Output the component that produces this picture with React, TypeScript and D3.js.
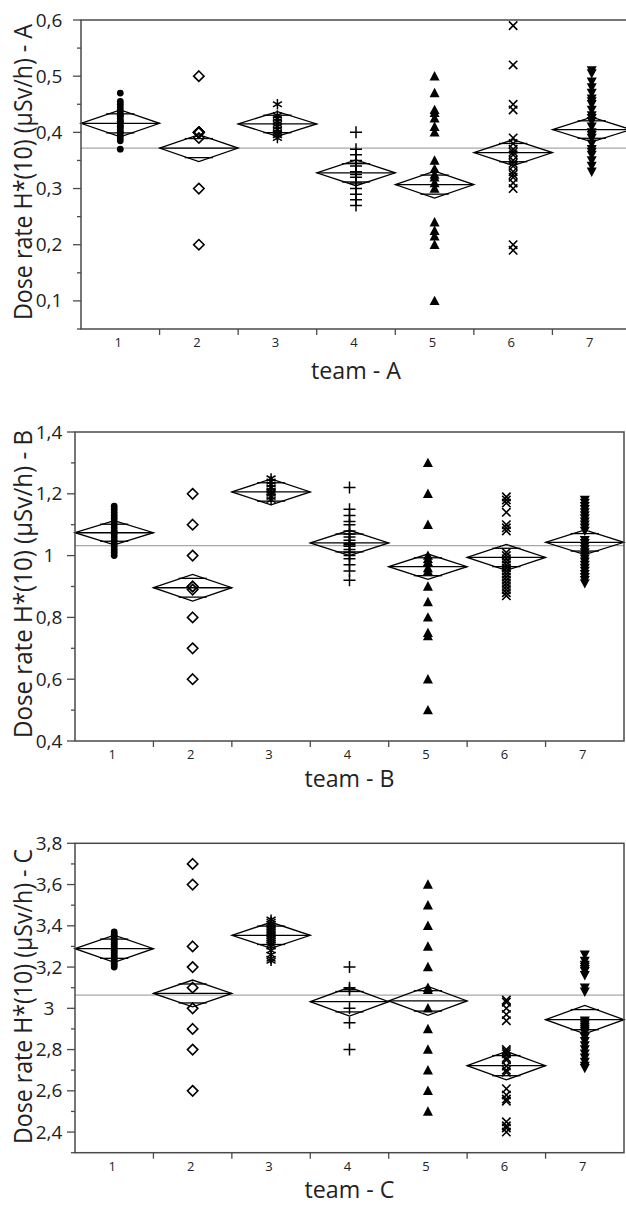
import React from "react";
import * as d3 from "d3";

const categories = ["1", "2", "3", "4", "5", "6", "7"];
const markerShapes = ["circle", "diamond", "asterisk", "plus", "triangleUp", "cross", "triangleDown"];

// Team A
const teamA: number[][] = [
  [0.37, 0.385, 0.39, 0.395, 0.40, 0.40, 0.405, 0.41, 0.41, 0.415, 0.42, 0.42, 0.425, 0.43, 0.43, 0.435, 0.44, 0.445, 0.45, 0.455, 0.47],
  [0.5, 0.4, 0.4, 0.4, 0.4, 0.4, 0.4, 0.4, 0.39, 0.3, 0.2],
  [0.39, 0.395, 0.40, 0.405, 0.41, 0.415, 0.42, 0.425, 0.43, 0.45],
  [0.40, 0.37, 0.36, 0.35, 0.345, 0.34, 0.33, 0.325, 0.32, 0.31, 0.30, 0.29, 0.28, 0.27],
  [0.50, 0.47, 0.44, 0.435, 0.425, 0.41, 0.40, 0.35, 0.335, 0.325, 0.32, 0.31, 0.30, 0.24, 0.225, 0.215, 0.20, 0.10],
  [0.59, 0.52, 0.45, 0.44, 0.39, 0.38, 0.37, 0.365, 0.36, 0.35, 0.345, 0.34, 0.33, 0.325, 0.32, 0.31, 0.30, 0.20, 0.19],
  [0.51, 0.505, 0.49, 0.48, 0.47, 0.46, 0.455, 0.45, 0.44, 0.43, 0.425, 0.42, 0.41, 0.40, 0.395, 0.39, 0.38, 0.37, 0.365, 0.36, 0.35, 0.34, 0.33],
];
const meansA = [0.416, 0.372, 0.415, 0.328, 0.307, 0.364, 0.405];
const ciA = [0.024, 0.024, 0.022, 0.023, 0.024, 0.023, 0.022];
const grandMeanA = 0.372;
const majorTicksA = [0.1, 0.2, 0.3, 0.4, 0.5, 0.6];
const minorTicksA = [0.05, 0.15, 0.25, 0.35, 0.45, 0.55];

// Team B
const teamB: number[][] = [
  [1.16, 1.15, 1.14, 1.13, 1.12, 1.11, 1.10, 1.09, 1.08, 1.075, 1.07, 1.06, 1.05, 1.04, 1.03, 1.02, 1.01, 1.00],
  [1.2, 1.1, 1.0, 0.9, 0.9, 0.89, 0.8, 0.7, 0.6],
  [1.25, 1.24, 1.23, 1.22, 1.21, 1.205, 1.20, 1.19, 1.18],
  [1.22, 1.15, 1.13, 1.11, 1.10, 1.08, 1.07, 1.06, 1.05, 1.04, 1.035, 1.03, 1.02, 1.01, 1.00, 0.99, 0.97, 0.95, 0.92],
  [1.30, 1.20, 1.10, 1.00, 0.99, 0.98, 0.96, 0.95, 0.90, 0.85, 0.80, 0.75, 0.74, 0.60, 0.50],
  [1.19, 1.18, 1.17, 1.14, 1.10, 1.09, 1.08, 1.01, 1.00, 0.99, 0.98, 0.97, 0.96, 0.95, 0.94, 0.93, 0.92, 0.91, 0.90, 0.89, 0.88, 0.87],
  [1.18, 1.17, 1.16, 1.15, 1.14, 1.13, 1.12, 1.11, 1.10, 1.09, 1.08, 1.05, 1.04, 1.03, 1.02, 1.01, 1.00, 0.99, 0.98, 0.97, 0.96, 0.95, 0.94, 0.93, 0.92, 0.91],
];
const meansB = [1.074, 0.896, 1.206, 1.041, 0.964, 0.994, 1.043];
const ciB = [0.039, 0.043, 0.042, 0.041, 0.041, 0.042, 0.040];
const grandMeanB = 1.032;
const majorTicksB = [0.4, 0.6, 0.8, 1.0, 1.2, 1.4];
const minorTicksB = [0.5, 0.7, 0.9, 1.1, 1.3];

// Team C
const teamC: number[][] = [
  [3.37, 3.36, 3.35, 3.34, 3.33, 3.32, 3.31, 3.30, 3.29, 3.28, 3.27, 3.26, 3.25, 3.24, 3.23, 3.22, 3.21, 3.20],
  [3.7, 3.6, 3.3, 3.2, 3.1, 3.0, 2.9, 2.8, 2.6],
  [3.43, 3.42, 3.41, 3.40, 3.39, 3.38, 3.37, 3.36, 3.35, 3.34, 3.33, 3.32, 3.31, 3.30, 3.28, 3.26, 3.24, 3.23],
  [3.2, 3.1, 3.09, 3.0, 2.93, 2.8],
  [3.6, 3.5, 3.4, 3.3, 3.2, 3.1, 3.09, 3.0, 2.9, 2.8, 2.7, 2.6, 2.5],
  [3.04, 3.03, 3.0, 2.97, 2.94, 2.80, 2.79, 2.78, 2.76, 2.75, 2.72, 2.70, 2.69, 2.61, 2.58, 2.56, 2.55, 2.45, 2.43, 2.42, 2.40],
  [3.26, 3.23, 3.21, 3.20, 3.19, 3.18, 3.16, 3.10, 3.08, 2.94, 2.93, 2.92, 2.91, 2.90, 2.89, 2.88, 2.86, 2.84, 2.82, 2.80, 2.78, 2.76, 2.74, 2.72, 2.71],
];
const meansC = [3.289, 3.072, 3.354, 3.032, 3.036, 2.722, 2.945];
const ciC = [0.066, 0.065, 0.063, 0.07, 0.07, 0.069, 0.069];
const grandMeanC = 3.064;
const majorTicksC = [2.4, 2.6, 2.8, 3.0, 3.2, 3.4, 3.6, 3.8];
const minorTicksC = [2.3, 2.5, 2.7, 2.9, 3.1, 3.3, 3.5, 3.7];

const FONT = "'Open Sans', 'Noto Sans', sans-serif";

const fmt = (v: number) => String(+v.toFixed(2)).replace(".", ",");

function Marker({ shape, x, y }: { shape: string; x: number; y: number }) {
  const s = 1.5;
  switch (shape) {
    case "circle":
      return <circle cx={x} cy={y} r={3.4} fill="#000" />;
    case "diamond":
      return (
        <path d={`M${x},${y - 5.2}L${x + 5.2},${y}L${x},${y + 5.2}L${x - 5.2},${y}Z`} fill="none" stroke="#000" strokeWidth={1.6} />
      );
    case "asterisk": {
      const r = 5.2;
      const c = Math.cos(Math.PI / 6) * r;
      const sn = Math.sin(Math.PI / 6) * r;
      return (
        <path
          d={`M${x},${y - r}L${x},${y + r}M${x - c},${y - sn}L${x + c},${y + sn}M${x - c},${y + sn}L${x + c},${y - sn}`}
          stroke="#000"
          strokeWidth={s}
        />
      );
    }
    case "plus":
      return <path d={`M${x - 6},${y}L${x + 6},${y}M${x},${y - 6}L${x},${y + 6}`} stroke="#000" strokeWidth={s} />;
    case "triangleUp":
      return <path d={`M${x},${y - 5.2}L${x + 5},${y + 4.2}L${x - 5},${y + 4.2}Z`} fill="#000" />;
    case "cross":
      return (
        <path d={`M${x - 4.2},${y - 4.2}L${x + 4.2},${y + 4.2}M${x - 4.2},${y + 4.2}L${x + 4.2},${y - 4.2}`} stroke="#000" strokeWidth={1.6} />
      );
    case "triangleDown":
      return <path d={`M${x},${y + 5.2}L${x + 5},${y - 4.2}L${x - 5},${y - 4.2}Z`} fill="#000" />;
    default:
      return null;
  }
}

interface PanelProps {
  data: number[][];
  means: number[];
  ci: number[];
  grandMean: number;
  domain: [number, number];
  majorTicks: number[];
  minorTicks: number[];
  left: number;
  right: number;
  top: number;
  bottom: number;
  letter: string;
  yTitleCenter: number;
  yTitleLength: number;
  xTitleY: number;
}

function Panel(p: PanelProps) {
  const x = d3.scaleBand<string>().domain(categories).range([p.left, p.right]).padding(0);
  const y = d3.scaleLinear().domain(p.domain).range([p.bottom, p.top]);
  const bw = x.bandwidth();
  const overlap = 1 / Math.SQRT2;
  const axisColor = "#4a4a4a";
  return (
    <g>
      {/* grand mean */}
      <line x1={p.left} x2={p.right} y1={y(p.grandMean)} y2={y(p.grandMean)} stroke="#a8a8a8" strokeWidth={1.3} />
      {/* mean diamonds */}
      {categories.map((c, i) => {
        const x0 = x(c)!;
        const x1 = x0 + bw;
        const cx = x0 + bw / 2;
        const m = p.means[i];
        const h = p.ci[i];
        const hw = (bw / 2) * 0.36;
        const yo1 = y(m + h * overlap);
        const yo2 = y(m - h * overlap);
        return (
          <g key={c} stroke="#000" strokeWidth={1.3} fill="none">
            <path d={`M${x0},${y(m)}L${cx},${y(m + h)}L${x1},${y(m)}L${cx},${y(m - h)}Z`} />
            <line x1={x0} x2={x1} y1={y(m)} y2={y(m)} />
            <line x1={cx - hw} x2={cx + hw} y1={yo1} y2={yo1} />
            <line x1={cx - hw} x2={cx + hw} y1={yo2} y2={yo2} />
          </g>
        );
      })}
      {/* points */}
      {categories.map((c, i) => {
        const cx = x(c)! + bw / 2;
        return (
          <g key={"p" + c}>
            {p.data[i].map((v, j) => (
              <Marker key={j} shape={markerShapes[i]} x={cx} y={y(v)} />
            ))}
          </g>
        );
      })}
      {/* frame */}
      <rect x={p.left} y={p.top} width={p.right - p.left} height={p.bottom - p.top} fill="none" stroke={axisColor} strokeWidth={1.5} />
      {/* y ticks */}
      {p.majorTicks.map((t) => (
        <g key={"M" + t}>
          <line x1={p.left - 8} x2={p.left} y1={y(t)} y2={y(t)} stroke={axisColor} strokeWidth={1.3} />
          <text x={49} y={y(t) + 6.5} textAnchor="middle" fontSize={19} fontFamily={FONT} fill="#222">
            {fmt(t)}
          </text>
        </g>
      ))}
      {p.minorTicks.map((t) => (
        <line key={"m" + t} x1={p.left - 4} x2={p.left} y1={y(t)} y2={y(t)} stroke={axisColor} strokeWidth={1.3} />
      ))}
      {/* x ticks */}
      {categories.slice(1).map((c) => (
        <line key={"xt" + c} x1={x(c)!} x2={x(c)!} y1={p.bottom} y2={p.bottom + 6} stroke={axisColor} strokeWidth={1.3} />
      ))}
      {categories.map((c) => (
        <text key={"xl" + c} x={x(c)! + bw / 2 - 2} y={p.bottom + 18} textAnchor="middle" fontSize={13} fontFamily={FONT} fill="#222">
          {c}
        </text>
      ))}
      {/* titles */}
      <text
        transform={`translate(31.5,${p.yTitleCenter}) rotate(-90)`}
        textAnchor="middle"
        fontSize={25}
        fontFamily={FONT}
        fill="#222"
        textLength={p.yTitleLength}
        lengthAdjust="spacingAndGlyphs"
      >
        {`Dose rate H*(10) (µSv/h) - ${p.letter}`}
      </text>
      <text
        x={(p.left + p.right) / 2}
        y={p.xTitleY}
        textAnchor="middle"
        fontSize={24}
        fontFamily={FONT}
        fill="#222"
        textLength={90}
        lengthAdjust="spacingAndGlyphs"
      >
        {`team - ${p.letter}`}
      </text>
    </g>
  );
}

export default function App() {
  return (
    <svg width={626} height={1205} style={{ position: "absolute", left: 0, top: 0, background: "#fff" }}>
      <rect width={626} height={1205} fill="#fff" />
      <Panel data={teamA} means={meansA} ci={ciA} grandMean={grandMeanA} domain={[0.05, 0.6]} majorTicks={majorTicksA} minorTicks={minorTicksA} left={81} right={631} top={20} bottom={329} letter="A" yTitleCenter={172} yTitleLength={296} xTitleY={379} />
      <Panel data={teamB} means={meansB} ci={ciB} grandMean={grandMeanB} domain={[0.4, 1.4]} majorTicks={majorTicksB} minorTicks={minorTicksB} left={75} right={624} top={432} bottom={741} letter="B" yTitleCenter={584} yTitleLength={308} xTitleY={787} />
      <Panel data={teamC} means={meansC} ci={ciC} grandMean={grandMeanC} domain={[2.3, 3.8]} majorTicks={majorTicksC} minorTicks={minorTicksC} left={75} right={624} top={843.3} bottom={1152.7} letter="C" yTitleCenter={996.5} yTitleLength={295} xTitleY={1198} />
    </svg>
  );
}
